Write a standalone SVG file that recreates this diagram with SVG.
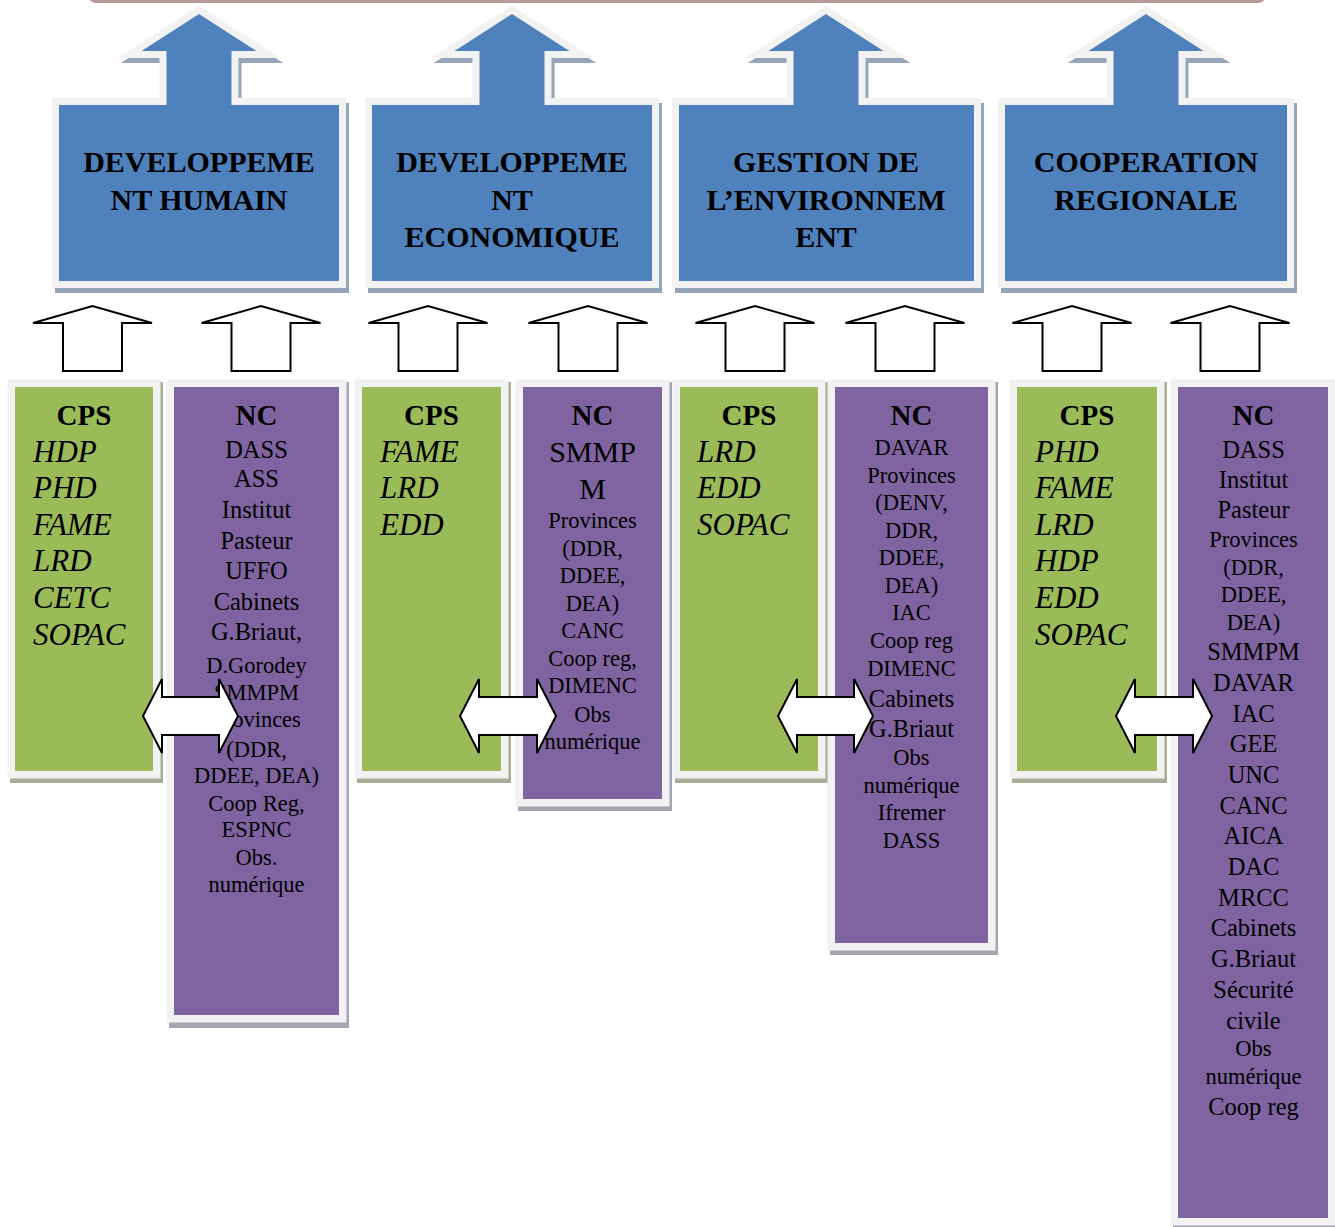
<svg xmlns="http://www.w3.org/2000/svg" width="1335" height="1227" viewBox="0 0 1335 1227">
<style>
.bg{fill:#ffffff}
.band{fill:#b99a9a}
.call{fill:#4f81bd;stroke:#f2f2f2;stroke-width:14;paint-order:stroke;stroke-linejoin:miter;stroke-miterlimit:10}
.callsh{fill:#97a5ba;stroke:#97a5ba;stroke-width:14;stroke-linejoin:miter;stroke-miterlimit:10}
.ct{font-family:"Liberation Serif","Times New Roman",serif;font-weight:bold;font-size:30px;fill:#000;text-anchor:middle}
.cps{fill:#9bbb59;stroke:#f2f2f2;stroke-width:15;paint-order:stroke}
.cpssh{fill:#a7ae95}
.nc{fill:#8064a2;stroke:#f2f2f2;stroke-width:15;paint-order:stroke}
.ncsh{fill:#a9a4b4}
.ttl{font-family:"Liberation Serif","Times New Roman",serif;font-weight:bold;font-size:29px;fill:#000;text-anchor:middle}
.it{font-family:"Liberation Serif","Times New Roman",serif;font-style:italic;font-size:31px;fill:#000}
.t{font-family:"Liberation Serif","Times New Roman",serif;font-size:22.5px;fill:#000;text-anchor:middle}
.tl{font-family:"Liberation Serif","Times New Roman",serif;font-size:24.5px;fill:#000;text-anchor:middle}
.tx{font-family:"Liberation Serif","Times New Roman",serif;font-size:30px;fill:#000;text-anchor:middle}
.up{fill:#ffffff;stroke:#000;stroke-width:2;stroke-linejoin:miter}
.dbl{fill:#ffffff;stroke:#000;stroke-width:2;stroke-linejoin:miter}
</style>
<rect class="bg" x="0" y="0" width="1335" height="1227"/>
<rect class="band" x="88" y="-20" width="1178" height="23" rx="8"/>

<!-- Top callouts -->
<g id="callout-dev-humain">
<path class="callsh" transform="translate(3,5)" d="M59,105 H166.5 V51 H141.5 L199,14 L256.5,51 H231.5 V105 H339 V281 H59 Z"/>
<path class="call" d="M59,105 H166.5 V51 H141.5 L199,14 L256.5,51 H231.5 V105 H339 V281 H59 Z"/>
<text class="ct" x="199" y="172">DEVELOPPEME</text>
<text class="ct" x="199" y="210">NT HUMAIN</text>
</g>
<g id="callout-dev-eco">
<path class="callsh" transform="translate(3,5)" d="M372,105 H479.5 V51 H454.5 L512,14 L569.5,51 H544.5 V105 H652 V281 H372 Z"/>
<path class="call" d="M372,105 H479.5 V51 H454.5 L512,14 L569.5,51 H544.5 V105 H652 V281 H372 Z"/>
<text class="ct" x="512" y="172">DEVELOPPEME</text>
<text class="ct" x="512" y="210">NT</text>
<text class="ct" x="512" y="247">ECONOMIQUE</text>
</g>
<g id="callout-env">
<path class="callsh" transform="translate(3,5)" d="M679,105 H793.5 V51 H768.5 L826,14 L883.5,51 H858.5 V105 H974 V281 H679 Z"/>
<path class="call" d="M679,105 H793.5 V51 H768.5 L826,14 L883.5,51 H858.5 V105 H974 V281 H679 Z"/>
<text class="ct" x="826" y="172">GESTION DE</text>
<text class="ct" x="826" y="210">L’ENVIRONNEM</text>
<text class="ct" x="826" y="247">ENT</text>
</g>
<g id="callout-coop">
<path class="callsh" transform="translate(3,5)" d="M1005,105 H1113.5 V51 H1088.5 L1146,14 L1203.5,51 H1178.5 V105 H1287 V281 H1005 Z"/>
<path class="call" d="M1005,105 H1113.5 V51 H1088.5 L1146,14 L1203.5,51 H1178.5 V105 H1287 V281 H1005 Z"/>
<text class="ct" x="1146" y="172">COOPERATION</text>
<text class="ct" x="1146" y="210">REGIONALE</text>
</g>

<!-- Column boxes -->
<g id="cps1">
<rect class="cpssh" x="10" y="382" width="153" height="401"/>
<rect class="cps" x="15" y="387" width="138" height="384"/>
<text class="ttl" x="84" y="425">CPS</text>
<text class="it" x="33" y="462">HDP</text>
<text class="it" x="33" y="498">PHD</text>
<text class="it" x="33" y="535">FAME</text>
<text class="it" x="33" y="571">LRD</text>
<text class="it" x="33" y="608">CETC</text>
<text class="it" x="33" y="645">SOPAC</text>
</g>
<g id="nc1">
<rect class="ncsh" x="169" y="382" width="180" height="646"/>
<rect class="nc" x="174" y="387" width="165" height="628"/>
<text class="ttl" x="256.5" y="425">NC</text>
<text class="tl" x="256.5" y="458">DASS</text>
<text class="tl" x="256.5" y="487">ASS</text>
<text class="tl" x="256.5" y="518">Institut</text>
<text class="tl" x="256.5" y="549">Pasteur</text>
<text class="tl" x="256.5" y="579">UFFO</text>
<text class="tl" x="256.5" y="610">Cabinets</text>
<text class="tl" x="256.5" y="640">G.Briaut,</text>
<text class="t" x="256.5" y="673">D.Gorodey</text>
<text class="t" x="256.5" y="700">SMMPM</text>
<text class="t" x="256.5" y="727">Provinces</text>
<text class="t" x="256.5" y="757">(DDR,</text>
<text class="t" x="256.5" y="783">DDEE, DEA)</text>
<text class="t" x="256.5" y="811">Coop Reg,</text>
<text class="t" x="256.5" y="837">ESPNC</text>
<text class="t" x="256.5" y="865">Obs.</text>
<text class="t" x="256.5" y="892">numérique</text>
</g>
<g id="cps2">
<rect class="cpssh" x="357" y="382" width="154" height="401"/>
<rect class="cps" x="362" y="387" width="139" height="384"/>
<text class="ttl" x="431.5" y="425">CPS</text>
<text class="it" x="380" y="462">FAME</text>
<text class="it" x="380" y="498">LRD</text>
<text class="it" x="380" y="535">EDD</text>
</g>
<g id="nc2">
<rect class="ncsh" x="518" y="382" width="154" height="429"/>
<rect class="nc" x="523" y="387" width="139" height="412"/>
<text class="ttl" x="592.5" y="425">NC</text>
<text class="tx" x="592.5" y="462">SMMP</text>
<text class="tx" x="592.5" y="499">M</text>
<text class="t" x="592.5" y="528">Provinces</text>
<text class="t" x="592.5" y="556">(DDR,</text>
<text class="t" x="592.5" y="583">DDEE,</text>
<text class="t" x="592.5" y="611">DEA)</text>
<text class="t" x="592.5" y="638">CANC</text>
<text class="t" x="592.5" y="666">Coop reg,</text>
<text class="t" x="592.5" y="693">DIMENC</text>
<text class="t" x="592.5" y="722">Obs</text>
<text class="t" x="592.5" y="749">numérique</text>
</g>
<g id="cps3">
<rect class="cpssh" x="675" y="382" width="153" height="401"/>
<rect class="cps" x="680" y="387" width="138" height="384"/>
<text class="ttl" x="749" y="425">CPS</text>
<text class="it" x="697" y="462">LRD</text>
<text class="it" x="697" y="498">EDD</text>
<text class="it" x="697" y="535">SOPAC</text>
</g>
<g id="nc3">
<rect class="ncsh" x="830" y="382" width="168" height="573"/>
<rect class="nc" x="835" y="387" width="153" height="556"/>
<text class="ttl" x="911.5" y="425">NC</text>
<text class="t" x="911.5" y="455">DAVAR</text>
<text class="t" x="911.5" y="483">Provinces</text>
<text class="t" x="911.5" y="510">(DENV,</text>
<text class="t" x="911.5" y="538">DDR,</text>
<text class="t" x="911.5" y="565">DDEE,</text>
<text class="t" x="911.5" y="593">DEA)</text>
<text class="t" x="911.5" y="620">IAC</text>
<text class="t" x="911.5" y="648">Coop reg</text>
<text class="t" x="911.5" y="676">DIMENC</text>
<text class="tl" x="911.5" y="707">Cabinets</text>
<text class="tl" x="911.5" y="737">G.Briaut</text>
<text class="t" x="911.5" y="765">Obs</text>
<text class="t" x="911.5" y="793">numérique</text>
<text class="t" x="911.5" y="820">Ifremer</text>
<text class="t" x="911.5" y="848">DASS</text>
</g>
<g id="cps4">
<rect class="cpssh" x="1012" y="382" width="155" height="401"/>
<rect class="cps" x="1017" y="387" width="140" height="384"/>
<text class="ttl" x="1087" y="425">CPS</text>
<text class="it" x="1035" y="462">PHD</text>
<text class="it" x="1035" y="498">FAME</text>
<text class="it" x="1035" y="535">LRD</text>
<text class="it" x="1035" y="571">HDP</text>
<text class="it" x="1035" y="608">EDD</text>
<text class="it" x="1035" y="645">SOPAC</text>
</g>
<g id="nc4">
<rect class="ncsh" x="1173" y="382" width="165" height="850"/>
<rect class="nc" x="1178" y="387" width="150" height="831"/>
<text class="ttl" x="1253.5" y="425">NC</text>
<text class="tl" x="1253.5" y="458">DASS</text>
<text class="tl" x="1253.5" y="488">Institut</text>
<text class="tl" x="1253.5" y="518">Pasteur</text>
<text class="t" x="1253.5" y="547">Provinces</text>
<text class="t" x="1253.5" y="575">(DDR,</text>
<text class="t" x="1253.5" y="602">DDEE,</text>
<text class="t" x="1253.5" y="630">DEA)</text>
<text class="tl" x="1253.5" y="660">SMMPM</text>
<text class="tl" x="1253.5" y="691">DAVAR</text>
<text class="tl" x="1253.5" y="722">IAC</text>
<text class="tl" x="1253.5" y="752">GEE</text>
<text class="tl" x="1253.5" y="783">UNC</text>
<text class="tl" x="1253.5" y="814">CANC</text>
<text class="tl" x="1253.5" y="844">AICA</text>
<text class="tl" x="1253.5" y="875">DAC</text>
<text class="tl" x="1253.5" y="906">MRCC</text>
<text class="tl" x="1253.5" y="936">Cabinets</text>
<text class="tl" x="1253.5" y="967">G.Briaut</text>
<text class="tl" x="1253.5" y="998">Sécurité</text>
<text class="tl" x="1253.5" y="1029">civile</text>
<text class="t" x="1253.5" y="1056">Obs</text>
<text class="t" x="1253.5" y="1084">numérique</text>
<text class="tl" x="1253.5" y="1115">Coop reg</text>
</g>

<!-- Connectors -->
<g id="connectors">
<path class="up" d="M33,323 L92.5,306 L152,323 H122 V371 H63 V323 Z"/>
<path class="up" d="M201.5,323 L261,306 L320.5,323 H290.5 V371 H231.5 V323 Z"/>
<path class="up" d="M368.5,323 L428,306 L487.5,323 H457.5 V371 H398.5 V323 Z"/>
<path class="up" d="M528.5,323 L588,306 L647.5,323 H617.5 V371 H558.5 V323 Z"/>
<path class="up" d="M695.5,323 L755,306 L814.5,323 H784.5 V371 H725.5 V323 Z"/>
<path class="up" d="M845.5,323 L905,306 L964.5,323 H934.5 V371 H875.5 V323 Z"/>
<path class="up" d="M1012.5,323 L1072,306 L1131.5,323 H1101.5 V371 H1042.5 V323 Z"/>
<path class="up" d="M1170.5,323 L1230,306 L1289.5,323 H1259.5 V371 H1200.5 V323 Z"/>
<path class="dbl" d="M143,716 L162,679 V697 H219 V679 L238,716 L219,753 V735 H162 V753 Z"/>
<path class="dbl" d="M460,716 L479,679 V697 H537 V679 L556,716 L537,753 V735 H479 V753 Z"/>
<path class="dbl" d="M778,716 L797,679 V697 H854 V679 L873,716 L854,753 V735 H797 V753 Z"/>
<path class="dbl" d="M1116,716 L1135,679 V697 H1193 V679 L1212,716 L1193,753 V735 H1135 V753 Z"/>
</g>
</svg>
